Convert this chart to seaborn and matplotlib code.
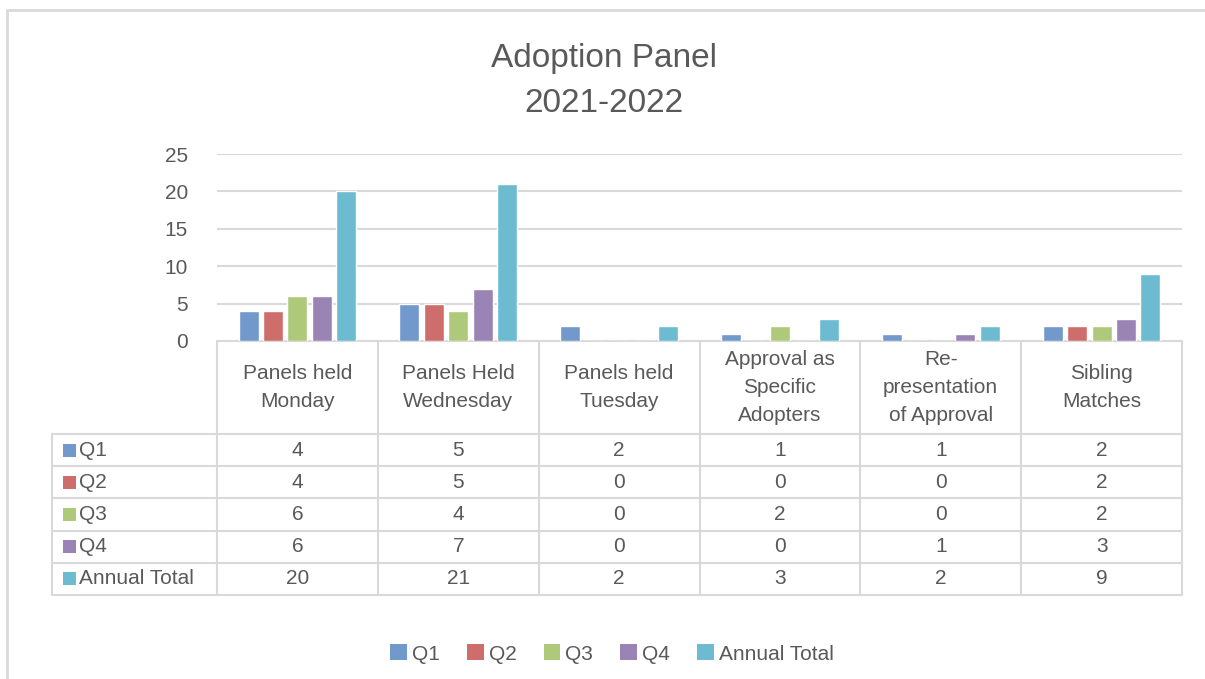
import matplotlib
matplotlib.use("Agg")
import matplotlib.pyplot as plt
import seaborn as sns
import pandas as pd
from matplotlib.patches import Rectangle

categories = ["Panels held\nMonday", "Panels Held\nWednesday", "Panels held\nTuesday",
              "Approval as\nSpecific\nAdopters", "Re-\npresentation\nof Approval", "Sibling\nMatches"]
series_names = ["Q1", "Q2", "Q3", "Q4", "Annual Total"]
q1 = [4, 5, 2, 1, 1, 2]
q2 = [4, 5, 0, 0, 0, 2]
q3 = [6, 4, 0, 2, 0, 2]
q4 = [6, 7, 0, 0, 1, 3]
annual = [20, 21, 2, 3, 2, 9]
yticks = [0, 5, 10, 15, 20, 25]
title = "Adoption Panel\n2021-2022"

colors = ["#7299CC", "#CE6E6C", "#AFC97A", "#9A83B5", "#6DBBD1"]
grid_c = "#D9D9D9"
txt_c = "#595959"

sns.set_theme(style="white")
plt.rcParams["font.family"] = ["Liberation Sans", "DejaVu Sans"]

series_vals = [q1, q2, q3, q4, annual]
rows = []
for s, vals in zip(series_names, series_vals):
    for c, v in zip(categories, vals):
        rows.append({"cat": c, "series": s, "value": v})
df = pd.DataFrame(rows)

W, H = 1205, 679
fig = plt.figure(figsize=(W / 100, H / 100), dpi=100)

ov = fig.add_axes([0, 0, 1, 1], zorder=0)
ov.set_xlim(0, W)
ov.set_ylim(H, 0)
ov.axis("off")

L, R, T, B = 217, 1182, 154, 341
ax = fig.add_axes([L / W, 1 - B / H, (R - L) / W, (B - T) / H], zorder=1)
ax.patch.set_alpha(0)
sns.barplot(data=df, x="cat", y="value", hue="series", hue_order=series_names,
            palette=colors, width=0.76, gap=0.18, saturation=1, ax=ax, legend=False)
ax.set_xlim(-0.5, len(categories) - 0.5)
ax.set_ylim(0, 25)
ax.set_yticks(yticks)
ax.set_xticks([])
ax.set_xlabel("")
ax.set_ylabel("")
for sp in ax.spines.values():
    sp.set_visible(False)
ax.yaxis.grid(True, color=grid_c, linewidth=1.5)
ax.set_axisbelow(True)
ax.tick_params(axis="y", length=0, pad=21, labelsize=15, labelcolor=txt_c)

fs = 15

# title
ov.text(604, 81, title, ha="center", va="center", fontsize=24, color=txt_c, linespacing=1.55)

# outer border (left and top)
ov.plot([7, 7, W + 5], [H + 5, 10, 10], color=grid_c, lw=2, clip_on=False)

# table
n = len(categories)
colw = (R - L) / n
col_x = [L + i * colw for i in range(n + 1)]
row_y = [434 + i * 32.2 for i in range(len(series_names) + 1)]
tb = row_y[-1]
lw = 1.5
for x in col_x:
    ov.plot([x, x], [B, tb], color=grid_c, lw=lw)
ov.plot([52, 52], [row_y[0], tb], color=grid_c, lw=lw)
for y in row_y:
    ov.plot([52, R], [y, y], color=grid_c, lw=lw)
ov.plot([L, R], [B, B], color=grid_c, lw=lw)

for i, c in enumerate(categories):
    ov.text(col_x[i] + colw / 2, (B + row_y[0]) / 2, c, ha="center", va="center",
            fontsize=fs, color=txt_c, linespacing=1.6)
for r, (s, vals, col) in enumerate(zip(series_names, series_vals, colors)):
    yc = (row_y[r] + row_y[r + 1]) / 2
    ov.add_patch(Rectangle((63, yc - 6.5), 13, 13, color=col, lw=0))
    ov.text(79, yc, s, ha="left", va="center", fontsize=fs, color=txt_c)
    for i, v in enumerate(vals):
        ov.text(col_x[i] + colw / 2, yc, str(v), ha="center", va="center",
                fontsize=fs, color=txt_c)

# legend
handles = [Rectangle((0, 0), 1, 1, color=c, lw=0) for c in colors]
fig.legend(handles, series_names, loc="center", bbox_to_anchor=(612 / W, 1 - 654 / H),
           ncol=5, frameon=False, fontsize=fs, labelcolor=txt_c, handlelength=0.8,
           handleheight=0.8, handletextpad=0.25, columnspacing=1.3)

fig.savefig("out.png", dpi=100)
